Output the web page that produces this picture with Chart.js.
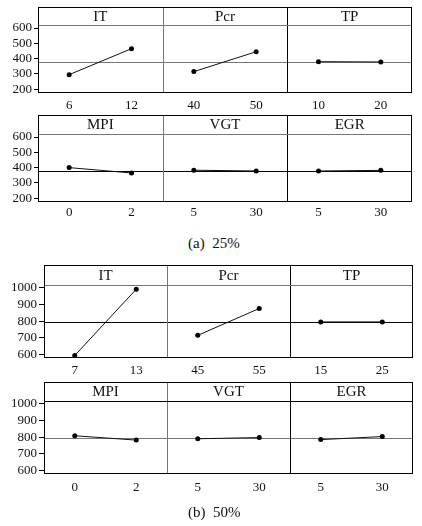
<!DOCTYPE html>
<html>
<head>
<meta charset="utf-8">
<script src="https://cdn.jsdelivr.net/npm/chart.js@4.4.1/dist/chart.umd.min.js"></script>
<style>
  body { margin: 0; background: #fff; width: 422px; height: 526px; position: relative; overflow: hidden; font-family: "Liberation Serif", serif; }
  canvas { position: absolute; left: 0; }
  .cap { position: absolute; left: 188px; font-size: 15px; line-height: 16px; white-space: pre; color: #111; }
</style>
</head>
<body>
<canvas id="a1"></canvas>
<canvas id="a2"></canvas>
<div class="cap" style="top:235px">(a)  25%</div>
<canvas id="b1"></canvas>
<canvas id="b2"></canvas>
<div class="cap" style="top:504px">(b)  50%</div>
<script>
// (a) 25% - factor names, levels and mean response at each level
const factorsA1 = ['IT', 'Pcr', 'TP'];
const levelsA1 = [['6', '12'], ['40', '50'], ['10', '20']];
const meansA1 = [[295, 465], [315, 445], [380, 378]];
const factorsA2 = ['MPI', 'VGT', 'EGR'];
const levelsA2 = [['0', '2'], ['5', '30'], ['5', '30']];
const meansA2 = [[400, 365], [383, 378], [378, 382]];
const grandMeanA = 380;
const yTicksA = [200, 300, 400, 500, 600];

// (b) 50%
const factorsB1 = ['IT', 'Pcr', 'TP'];
const levelsB1 = [['7', '13'], ['45', '55'], ['15', '25']];
const meansB1 = [[595, 990], [715, 875], [795, 795]];
const factorsB2 = ['MPI', 'VGT', 'EGR'];
const levelsB2 = [['0', '2'], ['5', '30'], ['5', '30']];
const meansB2 = [[808, 782], [790, 797], [785, 803]];
const grandMeanB = 796;
const yTicksB = [600, 700, 800, 900, 1000];

const FONT = '"Liberation Serif", serif';

// draws the grand mean line, factor dividers, the header strip and the frame
const panelFrame = {
  id: 'panelFrame',
  beforeDatasetsDraw(chart, args, o) {
    const { ctx, chartArea: a, scales: { y } } = chart;
    const ym = Math.round(y.getPixelForValue(o.mean)) + 0.5;
    ctx.save();
    ctx.strokeStyle = o.meanColor;
    ctx.lineWidth = 1;
    ctx.beginPath();
    ctx.moveTo(a.left, ym);
    ctx.lineTo(a.right, ym);
    ctx.stroke();
    ctx.restore();
  },
  afterDraw(chart, args, o) {
    const { ctx, chartArea: a, scales: { x } } = chart;
    const L = Math.round(a.left) + 0.5, R = Math.round(a.right) - 0.5;
    const B = Math.round(a.bottom) - 0.5, T = Math.round(a.top) + 0.5;
    const top = Math.round(a.top - o.stripH) + 0.5;
    ctx.save();
    ctx.lineWidth = 1;
    // dividers between factors
    for (let i = 1; i < o.names.length; i++) {
      const xd = Math.round((x.getPixelForValue(2 * i - 1) + x.getPixelForValue(2 * i)) / 2) + 0.5;
      ctx.strokeStyle = o.dividerColors[i - 1];
      ctx.beginPath();
      ctx.moveTo(xd, top);
      ctx.lineTo(xd, B);
      ctx.stroke();
    }
    // header strip bottom line
    ctx.strokeStyle = o.stripColor;
    ctx.beginPath();
    ctx.moveTo(L, T);
    ctx.lineTo(R, T);
    ctx.stroke();
    // outer frame
    ctx.strokeStyle = '#000';
    ctx.strokeRect(L, top, R - L, B - top);
    // factor names
    ctx.fillStyle = '#111';
    ctx.font = '15px ' + FONT;
    ctx.textAlign = 'center';
    ctx.textBaseline = 'middle';
    o.names.forEach((n, i) => {
      const xc = (x.getPixelForValue(2 * i) + x.getPixelForValue(2 * i + 1)) / 2;
      ctx.fillText(n, xc, a.top - o.stripH / 2 + 1);
    });
    ctx.restore();
  }
};

function makeRow(id, names, levels, means, mean, yTicks, yMin, yMax, g, st) {
  const canvas = document.getElementById(id);
  const h = g.plotBottom - g.top + 24;
  canvas.width = 422;
  canvas.height = h;
  canvas.style.width = '422px';
  canvas.style.height = h + 'px';
  canvas.style.top = g.top + 'px';

  const labels = levels.flat();
  const datasets = names.map((n, i) => {
    const data = labels.map(() => null);
    data[2 * i] = means[i][0];
    data[2 * i + 1] = means[i][1];
    return {
      label: n,
      data: data,
      borderColor: '#111',
      borderWidth: 1,
      pointRadius: 2.5,
      pointBackgroundColor: '#000',
      pointBorderWidth: 0,
      spanGaps: false,
      tension: 0
    };
  });

  new Chart(canvas, {
    type: 'line',
    data: { labels: labels, datasets: datasets },
    plugins: [panelFrame],
    options: {
      responsive: false,
      animation: false,
      layout: { padding: { top: g.plotTop - g.top, right: 422 - g.right, left: 0, bottom: 0 } },
      scales: {
        x: {
          type: 'category',
          offset: true,
          grid: { display: false, drawTicks: false },
          border: { display: false },
          ticks: { autoSkip: false, maxRotation: 0, padding: g.tickPad, color: '#111', font: { family: FONT, size: 13 } },
          afterFit: s => { s.height = h - (g.plotBottom - g.top); }
        },
        y: {
          min: yMin,
          max: yMax,
          afterBuildTicks: s => { s.ticks = yTicks.map(v => ({ value: v })); },
          grid: { drawOnChartArea: false, tickLength: st.tickLen, color: '#000' },
          border: { display: false },
          ticks: {
            autoSkip: false,
            padding: st.yPad,
            color: '#111',
            font: { family: FONT, size: 13 },
            callback: v => String(v)
          },
          afterFit: s => { s.width = g.left; }
        }
      },
      plugins: {
        legend: { display: false },
        tooltip: { enabled: false },
        panelFrame: {
          names: names,
          mean: mean,
          stripH: g.plotTop - g.stripTop,
          meanColor: st.meanColor,
          stripColor: st.stripColor,
          dividerColors: ['#777', '#000']
        }
      }
    }
  });
}

makeRow('a1', factorsA1, levelsA1, meansA1, grandMeanA, yTicksA, 175, 620,
  { top: 6, stripTop: 7, plotTop: 25, plotBottom: 93, left: 38, right: 412, tickPad: 5 },
  { meanColor: '#777', stripColor: '#777', tickLen: 4, yPad: 2 });
makeRow('a2', factorsA2, levelsA2, meansA2, grandMeanA, yTicksA, 175, 620,
  { top: 114, stripTop: 115, plotTop: 134, plotBottom: 202, left: 38, right: 412, tickPad: 3 },
  { meanColor: '#000', stripColor: '#777', tickLen: 4, yPad: 2 });
makeRow('b1', factorsB1, levelsB1, meansB1, grandMeanB, yTicksB, 580, 1015,
  { top: 264, stripTop: 265, plotTop: 285, plotBottom: 358, left: 44, right: 413, tickPad: 5 },
  { meanColor: '#000', stripColor: '#777', tickLen: 5, yPad: 2 });
makeRow('b2', factorsB2, levelsB2, meansB2, grandMeanB, yTicksB, 580, 1015,
  { top: 381, stripTop: 382, plotTop: 401, plotBottom: 474, left: 44, right: 413, tickPad: 6 },
  { meanColor: '#777', stripColor: '#000', tickLen: 5, yPad: 2 });
</script>
</body>
</html>
